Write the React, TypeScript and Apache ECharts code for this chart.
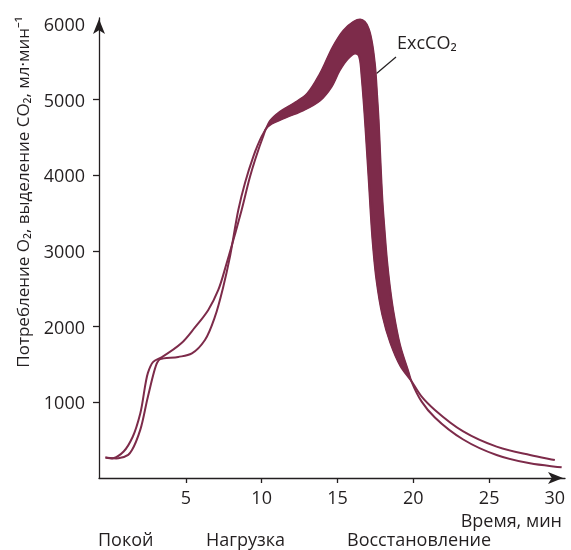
import React, { useEffect, useRef } from "react";
import * as echarts from "echarts";

// O2 consumption curve (time in min, value in ml/min)
const o2Time = [-0.3, 0.2, 0.9, 1.5, 2.0, 2.5, 2.85, 3.4, 4.7, 5.6, 6.48, 7.14, 7.69, 8.68, 9.23, 9.78, 10.11, 10.28, 10.55, 11.65, 12.75, 13.85, 14.6, 15.15, 15.7, 16.15, 16.37, 16.48, 16.6, 16.74, 16.86, 17.06, 17.31, 17.57, 17.96, 18.49, 19.15, 19.87, 20.55, 21.42, 23.29, 25.49, 27.69, 29.33];
const o2Value = [270, 260, 350, 545, 855, 1390, 1535, 1595, 1780, 1990, 2221, 2485, 2838, 3543, 3983, 4336, 4520, 4614, 4667, 4770, 4860, 4990, 5170, 5390, 5545, 5612, 5592, 5526, 5288, 4931, 4574, 3940, 3146, 2618, 2155, 1785, 1481, 1282, 1075, 899, 615, 414, 304, 238];

// CO2 output curve
const co2Time = [-0.3, 0.55, 1.2, 1.45, 2.0, 2.5, 3.1, 3.3, 4.5, 5.4, 6.26, 6.92, 7.47, 7.91, 8.46, 8.9, 9.45, 9.89, 10.28, 10.55, 11.2, 12.1, 13.0, 13.85, 14.7, 15.4, 16.05, 16.5, 16.8, 17.05, 17.25, 17.47, 17.61, 17.71, 17.8, 17.89, 17.98, 18.1, 18.26, 18.44, 18.69, 19.12, 19.68, 19.87, 20.55, 21.42, 23.29, 25.49, 27.69, 29.78];
const co2Value = [270, 260, 305, 370, 640, 1075, 1520, 1570, 1600, 1647, 1824, 2132, 2529, 2926, 3543, 3900, 4248, 4470, 4614, 4720, 4840, 4950, 5080, 5345, 5700, 5915, 6030, 6060, 6030, 5940, 5785, 5460, 5063, 4733, 4336, 3940, 3609, 3279, 2882, 2551, 2195, 1758, 1401, 1282, 1010, 800, 509, 304, 194, 141];

// excess CO2 band (where CO2 output exceeds O2 consumption)
const bandStart = 10.28;
const bandEnd = 19.87;

const xTickValues = [5, 10, 15, 20, 25];
const xLabelValues = [5, 10, 15, 20, 25, 30];
const yTickValues = [1000, 2000, 3000, 4000, 5000];
const yLabelValues = [1000, 2000, 3000, 4000, 5000, 6000];

const yAxisTitle = "Потребление O₂, выделение CO₂, мл·мин⁻¹";
const xAxisTitle = "Время, мин";
const phaseLabels = ["Покой", "Нагрузка", "Восстановление"];
const bandLabel = "ExcCO₂";

type P = number[];

// centripetal Catmull-Rom -> cubic bezier segments [p1, c1, c2, p2]
function segments(pts: P[]): P[][] {
  const out: P[][] = [];
  const n = pts.length;
  const dist = (a: P, b: P) => Math.hypot(a[0] - b[0], a[1] - b[1]);
  for (let i = 0; i < n - 1; i++) {
    const p1 = pts[i];
    const p2 = pts[i + 1];
    const p0 = i > 0 ? pts[i - 1] : [2 * p1[0] - p2[0], 2 * p1[1] - p2[1]];
    const p3 = i + 2 < n ? pts[i + 2] : [2 * p2[0] - p1[0], 2 * p2[1] - p1[1]];
    const d1 = Math.sqrt(dist(p0, p1));
    const d2 = Math.sqrt(dist(p1, p2));
    const d3 = Math.sqrt(dist(p2, p3));
    let c1: P = p1;
    let c2: P = p2;
    if (d1 > 1e-6 && d2 > 1e-6) {
      const a = 2 * d1 * d1 + 3 * d1 * d2 + d2 * d2;
      const b = 3 * d1 * (d1 + d2);
      c1 = [0, 1].map((k) => (d1 * d1 * p2[k] - d2 * d2 * p0[k] + a * p1[k]) / b);
    }
    if (d3 > 1e-6 && d2 > 1e-6) {
      const a = 2 * d3 * d3 + 3 * d3 * d2 + d2 * d2;
      const b = 3 * d3 * (d3 + d2);
      c2 = [0, 1].map((k) => (d3 * d3 * p1[k] - d2 * d2 * p3[k] + a * p2[k]) / b);
    }
    out.push([p1, c1, c2, p2]);
  }
  return out;
}

const f = (v: number) => v.toFixed(2);
const C = (c1: P, c2: P, p: P) => `C${f(c1[0])},${f(c1[1])} ${f(c2[0])},${f(c2[1])} ${f(p[0])},${f(p[1])}`;

export default function App() {
  const ref = useRef<HTMLDivElement>(null);

  useEffect(() => {
    const chart = echarts.init(ref.current as HTMLDivElement, null, { renderer: "svg" });
    const color = "#7d2b4a";
    const ink = "#231f20";
    const font = "'Open Sans', 'Noto Sans', 'DejaVu Sans', sans-serif";
    const fs = 18;

    const toPts = (api: any, ts: number[], vs: number[]) =>
      ts.map((t, i) => api.coord([t, vs[i]]) as P);

    const textStyle = (text: string, align: string, size = fs) => ({
      text,
      fill: ink,
      fontSize: size,
      fontFamily: font,
      align,
      textAlign: align,
      verticalAlign: "middle",
      textVerticalAlign: "middle",
    });

    const phaseX = [98, 206, 347];

    chart.setOption({
      animation: false,
      grid: { left: 99, right: 6, top: 18, bottom: 72, containLabel: false },
      xAxis: {
        type: "value",
        min: -0.725,
        max: 30,
        axisLine: {
          show: true,
          onZero: false,
          symbol: ["none", "arrow"],
          symbolSize: [9, 15],
          symbolOffset: [0, -2],
          lineStyle: { color: ink, width: 1.3 },
        },
        axisTick: {
          show: true,
          customValues: xTickValues,
          length: 5,
          lineStyle: { color: ink, width: 1.3 },
        },
        axisLabel: {
          customValues: xLabelValues,
          fontSize: fs,
          fontFamily: font,
          color: ink,
          margin: 10,
          alignMaxLabel: "right",
          formatter: (v: number) => String(v),
        },
        splitLine: { show: false },
      },
      yAxis: {
        type: "value",
        min: 0,
        max: 6080,
        axisLine: {
          show: true,
          onZero: false,
          symbol: ["none", "arrow"],
          symbolSize: [9, 15],
          symbolOffset: [0, -1],
          lineStyle: { color: ink, width: 1.3 },
        },
        axisTick: {
          show: true,
          customValues: yTickValues,
          length: 6,
          lineStyle: { color: ink, width: 1.3 },
        },
        axisLabel: {
          customValues: yLabelValues,
          fontSize: fs,
          fontFamily: font,
          color: ink,
          margin: 14,
          formatter: (v: number) => String(v),
        },
        splitLine: { show: false },
      },
      series: [
        {
          type: "custom",
          coordinateSystem: "cartesian2d",
          data: [[0, 0]],
          clip: false,
          silent: true,
          renderItem: (params: any, api: any) => {
            const o2 = toPts(api, o2Time, o2Value);
            const co2 = toPts(api, co2Time, co2Value);
            const so2 = segments(o2);
            const sco2 = segments(co2);
            const linePath = (segs: P[][]) => {
              let d = `M${f(segs[0][0][0])},${f(segs[0][0][1])}`;
              segs.forEach((s) => (d += C(s[1], s[2], s[3])));
              return d;
            };
            const cs = co2Time.indexOf(bandStart);
            const ce = co2Time.indexOf(bandEnd);
            const os = o2Time.indexOf(bandStart);
            const oe = o2Time.indexOf(bandEnd);
            let band = `M${f(co2[cs][0])},${f(co2[cs][1])}`;
            for (let i = cs; i < ce; i++) {
              const s = sco2[i];
              band += C(s[1], s[2], s[3]);
            }
            band += `L${f(o2[oe][0])},${f(o2[oe][1])}`;
            for (let i = oe - 1; i >= os; i--) {
              const s = so2[i];
              band += C(s[2], s[1], s[0]);
            }
            band += "Z";
            return {
              type: "group",
              children: [
                {
                  type: "path",
                  shape: { pathData: band },
                  style: { fill: color, stroke: color, lineWidth: 1 },
                },
                {
                  type: "path",
                  shape: { pathData: linePath(so2) },
                  style: { stroke: color, lineWidth: 2, fill: "none" },
                },
                {
                  type: "path",
                  shape: { pathData: linePath(sco2) },
                  style: { stroke: color, lineWidth: 2, fill: "none" },
                },
              ],
            };
          },
        },
      ],
      graphic: [
        {
          type: "text",
          x: 22,
          y: 192,
          rotation: Math.PI / 2,
          style: textStyle(yAxisTitle, "center", 17),
        },
        {
          type: "text",
          x: 562,
          y: 520,
          style: textStyle(xAxisTitle, "right"),
        },
        ...phaseLabels.map((t, i) => ({
          type: "text",
          x: phaseX[i],
          y: 539,
          style: textStyle(t, "left"),
        })),
        {
          type: "text",
          x: 397,
          y: 42,
          style: textStyle(bandLabel, "left"),
        },
        {
          type: "line",
          shape: { x1: 396, y1: 57, x2: 376.5, y2: 73.5 },
          style: { stroke: ink, lineWidth: 1.2 },
        },
      ],
    });

    return () => chart.dispose();
  }, []);

  return (
    <div
      ref={ref}
      style={{ position: "fixed", left: 0, top: 0, width: 571, height: 550 }}
    />
  );
}
